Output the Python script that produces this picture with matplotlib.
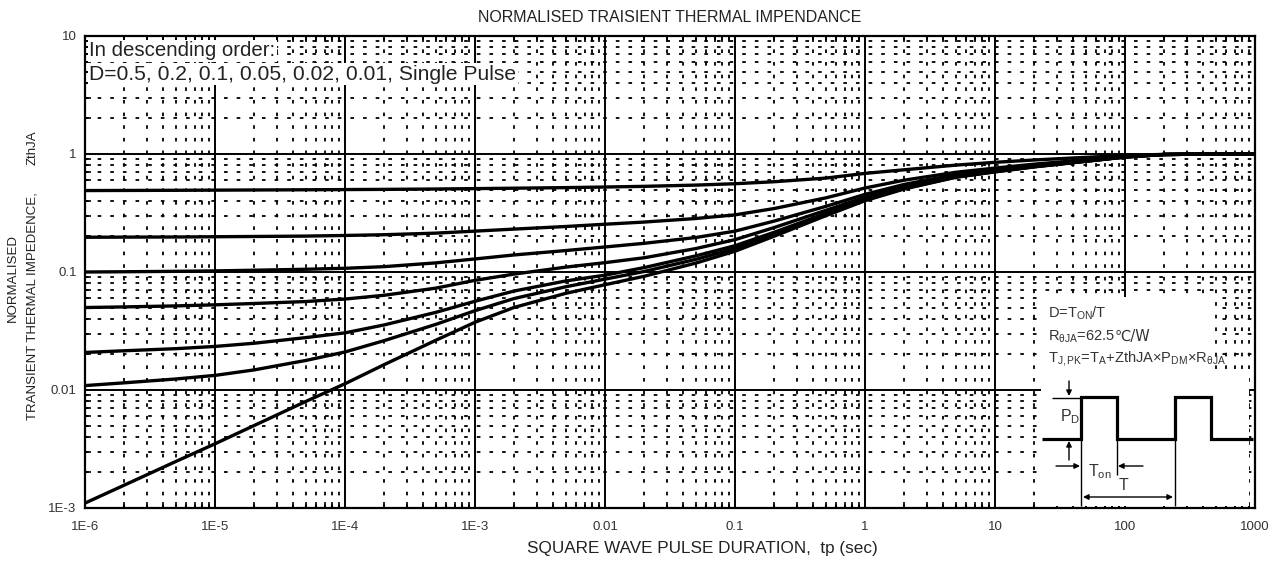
import matplotlib
matplotlib.use("Agg")
import matplotlib.pyplot as plt
from matplotlib.ticker import LogLocator, NullFormatter, FixedLocator, FixedFormatter
import matplotlib.patches as mpatches

# ---------------- data ----------------
t = [1e-6, 2e-6, 5e-6, 1e-5, 2e-5, 5e-5, 1e-4, 2e-4, 5e-4, 1e-3, 2e-3, 5e-3,
     1e-2, 2e-2, 5e-2, 0.1, 0.2, 0.5, 1, 2, 5, 10, 20, 50, 100, 200, 500, 1000]

z_d050 = [0.490, 0.491, 0.4925, 0.494, 0.4955, 0.4975, 0.4995, 0.5015, 0.505, 0.509, 0.513, 0.519,
          0.525, 0.532, 0.545, 0.560, 0.582, 0.625, 0.685, 0.735, 0.805, 0.850, 0.890, 0.937,
          0.972, 0.993, 1.0, 1.0]
z_d020 = [0.197, 0.1975, 0.198, 0.199, 0.200, 0.2015, 0.204, 0.207, 0.2135, 0.222, 0.231, 0.243,
          0.254, 0.265, 0.284, 0.305, 0.345, 0.425, 0.515, 0.600, 0.700, 0.760, 0.820, 0.893,
          0.955, 0.990, 1.0, 1.0]
z_d010 = [0.100, 0.1005, 0.1013, 0.1022, 0.1035, 0.1055, 0.1075, 0.111, 0.1195, 0.129, 0.1395, 0.152,
          0.163, 0.175, 0.196, 0.222, 0.270, 0.360, 0.455, 0.552, 0.670, 0.735, 0.800, 0.880,
          0.948, 0.990, 1.0, 1.0]
z_d005 = [0.050, 0.0506, 0.0516, 0.0527, 0.0541, 0.0562, 0.059, 0.0635, 0.073, 0.085, 0.096, 0.110,
          0.120, 0.132, 0.158, 0.188, 0.238, 0.333, 0.430, 0.530, 0.652, 0.720, 0.788, 0.874,
          0.945, 0.990, 1.0, 1.0]
z_d002 = [0.0208, 0.0215, 0.0224, 0.0234, 0.0249, 0.0278, 0.0305, 0.0356, 0.0455, 0.0565, 0.069, 0.0840,
          0.094, 0.109, 0.137, 0.167, 0.217, 0.314, 0.414, 0.515, 0.642, 0.711, 0.782, 0.870,
          0.943, 0.990, 1.0, 1.0]
z_d001 = [0.0109, 0.0115, 0.0124, 0.0133, 0.0148, 0.0178, 0.0210, 0.0262, 0.0360, 0.0470, 0.0596, 0.0750,
          0.0870, 0.101, 0.128, 0.158, 0.209, 0.307, 0.408, 0.510, 0.638, 0.708, 0.780, 0.868,
          0.943, 0.990, 1.0, 1.0]
z_single = [0.0011, 0.00156, 0.00248, 0.0035, 0.0050, 0.0080, 0.0113, 0.0164, 0.0264, 0.0375, 0.0501, 0.066,
            0.078, 0.092, 0.119, 0.150, 0.201, 0.300, 0.402, 0.505, 0.635, 0.705, 0.777, 0.867,
            0.942, 0.990, 1.0, 1.0]

x_tick_values = [1e-6, 1e-5, 1e-4, 1e-3, 1e-2, 1e-1, 1, 10, 100, 1000]
x_tick_labels = ["1E-6", "1E-5", "1E-4", "1E-3", "0.01", "0.1", "1", "10", "100", "1000"]
y_tick_values = [1e-3, 1e-2, 1e-1, 1, 10]
y_tick_labels = ["1E-3", "0.01", "0.1", "1", "10"]

title_text = "NORMALISED TRAISIENT THERMAL IMPENDANCE"
xlabel_text = "SQUARE WAVE PULSE DURATION,  tp (sec)"

# ---------------- figure ----------------
plt.rcParams['font.family'] = ['Liberation Sans', 'DejaVu Sans']
plt.rcParams['mathtext.fontset'] = 'custom'
plt.rcParams['mathtext.rm'] = 'Liberation Sans'
plt.rcParams['mathtext.it'] = 'Liberation Sans'

W, H = 1279, 565
fig = plt.figure(figsize=(W / 100, H / 100), dpi=100)
AX_L, AX_R, AX_T, AX_B = 85, 1255, 36, 508
ax = fig.add_axes([AX_L / W, 1 - AX_B / H, (AX_R - AX_L) / W, (AX_B - AX_T) / H])
ax.set_xscale('log')
ax.set_yscale('log')
ax.set_xlim(1e-6, 1000)
ax.set_ylim(1e-3, 10)

for z in [z_d050, z_d020, z_d010, z_d005, z_d002, z_d001, z_single]:
    ax.plot(t, z, color='black', lw=2.4, solid_capstyle='round', solid_joinstyle='round', zorder=3)

ax.xaxis.set_major_locator(FixedLocator(x_tick_values))
ax.xaxis.set_major_formatter(FixedFormatter(x_tick_labels))
ax.yaxis.set_major_locator(FixedLocator(y_tick_values))
ax.yaxis.set_major_formatter(FixedFormatter(y_tick_labels))
ax.xaxis.set_minor_locator(LogLocator(base=10, subs=range(2, 10), numticks=100))
ax.yaxis.set_minor_locator(LogLocator(base=10, subs=range(2, 10), numticks=100))
ax.xaxis.set_minor_formatter(NullFormatter())
ax.yaxis.set_minor_formatter(NullFormatter())

ax.grid(which='major', color='black', lw=1.4, ls='-', zorder=1)
ax.grid(which='minor', color='black', lw=1.3, ls=(0, (2, 5)), zorder=1)
ax.set_axisbelow(True)
ax.tick_params(which='major', length=0, labelsize=9.5, labelcolor='#333333')
ax.tick_params(axis='x', which='major', pad=9)
ax.tick_params(axis='y', which='major', pad=6)
ax.tick_params(which='minor', direction='in', length=4, width=1.2, top=True, right=False)
for s in ax.spines.values():
    s.set_linewidth(1.6)

# titles / labels
fig.text(670 / W, 1 - 17 / H, title_text, ha='center', va='center', fontsize=11.5, color='#222222')
fig.text(702 / W, 1 - 548 / H, xlabel_text, ha='center', va='center', fontsize=12.3, color='#222222')
fig.text(13 / W, 1 - 278 / H, "NORMALISED", rotation=90, ha='center', va='center',
         fontsize=9.5, color='#222222')
fig.text(33 / W, 1 - 306 / H, "TRANSIENT THERMAL IMPEDENCE,", rotation=90, ha='center', va='center',
         fontsize=9.5, color='#222222')
fig.text(33 / W, 1 - 148 / H, "ZthJA", rotation=90, ha='center', va='center',
         fontsize=9.5, color='#222222')


def ax_xy(px, py):
    return ((px - AX_L) / (AX_R - AX_L), (AX_B - py) / (AX_B - AX_T))


# top-left note
bb = dict(facecolor='white', edgecolor='none', pad=1.0)
x0, y0 = ax_xy(89, 51)
ax.text(x0, y0, "In descending order:", transform=ax.transAxes, ha='left', va='center',
        fontsize=14.7, color='#222222', bbox=bb, zorder=5)
x0, y0 = ax_xy(89, 74)
ax.text(x0, y0, "D=0.5, 0.2, 0.1, 0.05, 0.02, 0.01, Single Pulse", transform=ax.transAxes,
        ha='left', va='center', fontsize=15.2, color='#222222', bbox=bb, zorder=5)


# inset: white panels
def rect(px0, py0, px1, py1):
    xa, ya = ax_xy(px0, py1)
    xb, yb = ax_xy(px1, py0)
    ax.add_patch(mpatches.Rectangle((xa, ya), xb - xa, yb - ya, transform=ax.transAxes,
                                    facecolor='white', edgecolor='none', zorder=4))


rect(1041, 297, 1214, 374)
rect(1041, 374, 1249, 506)

renderer = fig.canvas.get_renderer()


def txt(px, py, s, fs=10.5, va='baseline'):
    x, y = ax_xy(px, py)
    return ax.text(x, y, s, transform=ax.transAxes, ha='left', va=va, fontsize=fs,
                   color='#333333', zorder=6)


txt(1048, 318, r"D=T$_{\mathregular{ON}}$/T")
part = txt(1048, 341, "R$_{\\mathregular{\u03b8JA}}$=62.5")
ext = part.get_window_extent(renderer)
x_next = ax.transAxes.inverted().transform((ext.x1, ext.y0))[0]
ax.text(x_next, ax_xy(0, 341)[1], "\u2103/W", transform=ax.transAxes, ha='left', va='baseline',
        fontsize=10.5, color='#333333', zorder=6, family=['DejaVu Sans'])
txt(1048, 362, "T$_{\\mathregular{J,PK}}$=T$_{\\mathregular{A}}$+ZthJA\u00d7P$_{\\mathregular{DM}}$\u00d7R$_{\\mathregular{\u03b8JA}}$")


def line(pts, lw=1.0):
    xs, ys = zip(*[ax_xy(px, py) for px, py in pts])
    ax.plot(xs, ys, transform=ax.transAxes, color='black', lw=lw, zorder=6, clip_on=False,
            solid_capstyle='butt', solid_joinstyle='miter')


# pulse train
line([(1042, 439), (1081, 439), (1081, 397), (1117, 397), (1117, 439), (1175, 439),
      (1175, 397), (1211, 397), (1211, 439), (1253, 439)], lw=2.3)
line([(1052, 398), (1081, 398)], lw=1.0)
line([(1081, 439), (1081, 506)], lw=1.0)
line([(1117, 439), (1117, 475)], lw=1.0)
line([(1175, 439), (1175, 506)], lw=1.0)


def arrow(p_from, p_to, style='-|>'):
    ax.annotate('', xy=ax_xy(*p_to), xytext=ax_xy(*p_from), xycoords='axes fraction',
                textcoords='axes fraction',
                arrowprops=dict(arrowstyle=style, color='black', lw=1.0,
                                mutation_scale=8, shrinkA=0, shrinkB=0), zorder=7)


arrow((1069, 381), (1069, 396))
arrow((1069, 460), (1069, 441))
arrow((1056, 466), (1080, 466))
arrow((1143, 466), (1118, 466))
arrow((1083, 497), (1173, 497), style='<|-|>')

txt(1060, 417, "P$_{\\mathregular{D}}$", fs=11.5, va='center')
txt(1088, 472, "T$_{\\mathregular{on}}$", fs=11.5, va='center')
txt(1119, 486, "T", fs=11.5, va='center')

fig.savefig("out.png", dpi=100)
